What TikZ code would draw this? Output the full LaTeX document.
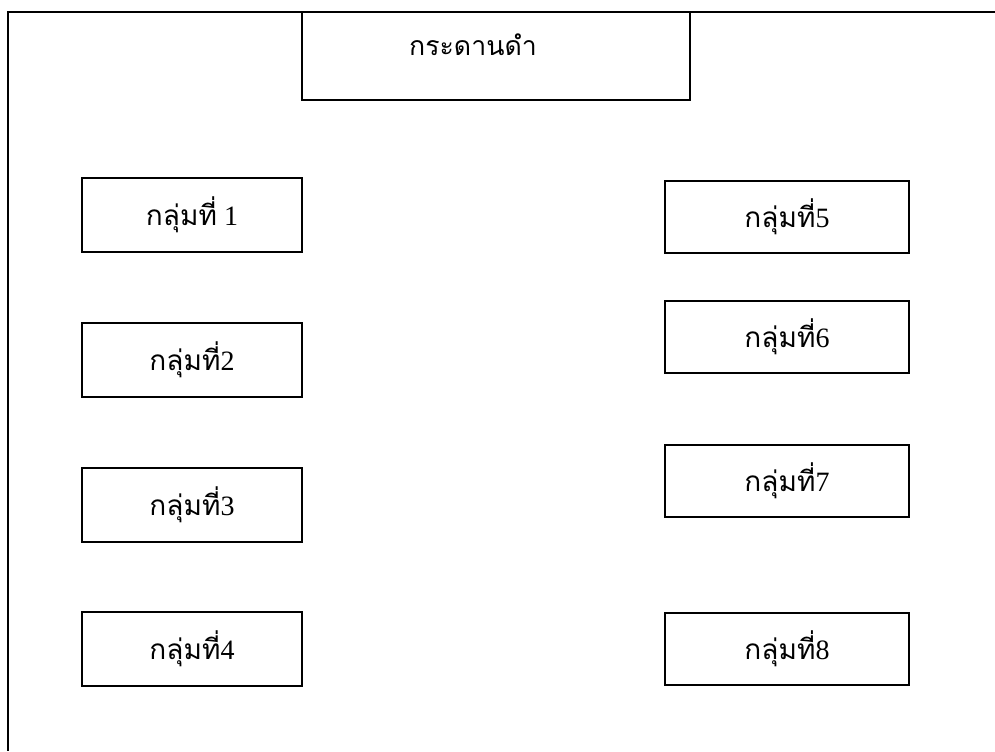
\documentclass[tikz,border=0pt]{standalone}
\usepackage{fontspec}
\setmainfont{Liberation Serif}
\newfontfamily\thaifont[Script=Thai]{Loma}
\usepackage{tikz}
\usetikzlibrary{positioning}

\newcommand{\grplabel}[1]{{\thaifont กลุ่มที่}#1}

\tikzset{
  frameline/.style={line width=1.6pt},
  boardbox/.style={draw, line width=1.5pt, minimum width=291pt, minimum height=66pt, inner sep=0pt},
  grpleft/.style={draw, line width=1.4pt, minimum width=165pt, minimum height=55pt, inner sep=0pt, font=\fontsize{21}{24}\selectfont},
  grpright/.style={draw, line width=1.4pt, minimum width=183pt, minimum height=54pt, inner sep=0pt, font=\fontsize{21}{24}\selectfont}
}

\begin{document}
\begin{tikzpicture}[x=0.75pt, y=-0.75pt]
    \useasboundingbox (0,0) rectangle (995,751);
    % Room outline (cut at right and bottom)
    \coordinate (roomtl) at (8,12);
    \draw [frameline] (995,12) -- (roomtl) -- (8,751);
    % Blackboard
    \node [boardbox] (board) at (496,56) {};
    \node [font=\fontsize{20}{24}\selectfont] (boardtxt) at (473,45) {\thaifont กระดานดำ};
    % Groups, left column
    \node [grpleft] (g1) at (192,215) {\grplabel{ 1}};
    \node [grpleft] (g2) at (192,360) {\grplabel{2}};
    \node [grpleft] (g3) at (192,505) {\grplabel{3}};
    \node [grpleft] (g4) at (192,649) {\grplabel{4}};
    % Groups, right column
    \node [grpright] (g5) at (787,217) {\grplabel{5}};
    \node [grpright] (g6) at (787,337) {\grplabel{6}};
    \node [grpright] (g7) at (787,481) {\grplabel{7}};
    \node [grpright] (g8) at (787,649) {\grplabel{8}};
\end{tikzpicture}
\end{document}
